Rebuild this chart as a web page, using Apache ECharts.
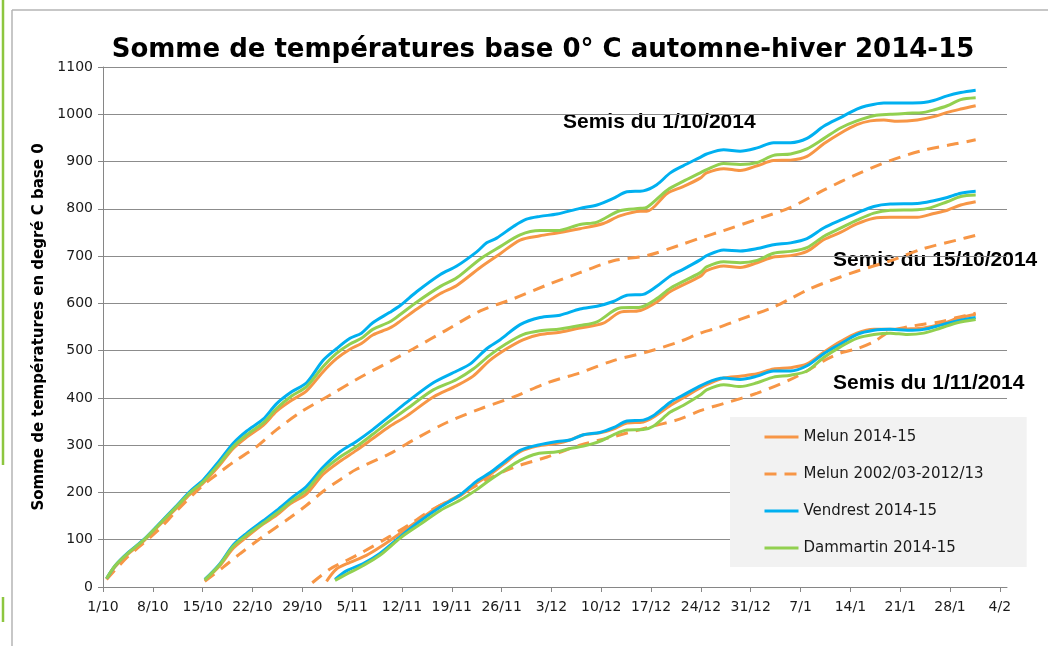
<!DOCTYPE html>
<html>
<head>
<meta charset="utf-8">
<script src="https://cdn.jsdelivr.net/npm/echarts@6/dist/echarts.min.js"></script>
<style>
  html, body { margin: 0; padding: 0; background: #fff; }
  #chart { width: 1048px; height: 646px; }
</style>
</head>
<body>
<div id="chart"></div>
<script>
// jours depuis le 1/10/2014, une graduation par semaine
const tickLabels = ['1/10', '8/10', '15/10', '22/10', '29/10', '5/11', '12/11', '19/11', '26/11', '3/12',
  '10/12', '17/12', '24/12', '31/12', '7/1', '14/1', '21/1', '28/1', '4/2']

const seriesNames = ['Melun 2014-15', 'Melun 2002/03-2012/13', 'Vendrest 2014-15', 'Dammartin 2014-15']

// Semis du 1/10/2014
const melunA = [[0.5,17],[1.7,43],[3.4,68],[5.7,97],[7.6,126],[10.4,168],[12.2,196],[14.1,220],[16.4,258],[18.3,293],[20.2,317],[22.5,342],[24.4,372],[26.5,395],[28.6,415],[30.9,455],[32.8,483],[34.7,503],[36.3,515],[37.9,533],[40.3,548],[41.8,563],[44.1,588],[47.4,621],[49.7,638],[53,676],[55.8,705],[58.6,734],[61.4,743],[63.8,749],[67,758],[70.3,769],[72.6,785],[75.5,795],[76.4,795],[79.3,833],[81.5,847],[83.9,865],[84.8,876],[87.2,885],[89.5,881],[91.9,891],[94.2,902],[96.6,903],[98.9,911],[101.3,938],[103.6,960],[105.9,978],[107.8,986],[109.7,988],[111.6,985],[114.4,988],[116.7,995],[118.6,1004],[120.5,1011],[122.6,1018]]
const histA = [[0.5,16],[3.4,63],[7.6,118],[10.4,162],[14.1,216],[16,238],[18.3,264],[21.6,297],[24.4,333],[28.1,373],[31.9,406],[35.6,439],[40.3,477],[43.6,504],[48.3,544],[53,584],[57.7,610],[62.4,639],[67,665],[71.7,690],[76.4,701],[81,723],[83.9,738],[87.2,754],[91.9,778],[96.6,803],[101.3,840],[105.9,873],[110.6,902],[115.3,924],[120,938],[122.6,946]]
const vendrestA = [[0.5,18],[1.7,45],[3.4,71],[5.7,100],[7.6,129],[10.4,173],[12.2,202],[14.1,227],[16.4,268],[18.3,304],[20.2,330],[22.5,355],[24.4,388],[26.5,413],[28.6,432],[30.9,479],[32.8,504],[34.7,526],[36.3,537],[37.9,559],[40.3,581],[41.8,596],[44.1,625],[47.4,661],[49.7,679],[52.5,709],[53.9,728],[55.3,738],[57.7,763],[59.5,778],[61.4,784],[63.8,789],[67,801],[69.4,808],[71.7,822],[73.6,836],[75.9,838],[77.8,851],[79.7,876],[81.5,891],[83.9,909],[84.8,916],[87.2,925],[89.5,922],[91.9,929],[94.2,940],[96.6,940],[98.9,949],[101.3,975],[103.6,993],[105.9,1011],[107.3,1018],[109.7,1024],[113,1024],[115.3,1025],[116.7,1029],[118.6,1039],[120.5,1046],[122.6,1051]]
const dammartinA = [[0.5,18],[1.7,45],[3.4,70],[5.7,99],[7.6,128],[10.4,171],[12.2,199],[14.1,223],[16.4,262],[18.3,297],[20.2,322],[22.5,347],[24.4,378],[26.5,404],[28.6,424],[30.9,466],[32.8,494],[34.7,514],[36.3,526],[37.9,545],[40.3,561],[41.8,577],[44.1,603],[47.4,636],[49.7,654],[53,694],[55.8,720],[58.6,745],[61.4,754],[63.8,754],[67,767],[69.4,772],[72.6,796],[75.5,801],[76.4,803],[79.3,840],[81.5,858],[83.9,876],[84.8,883],[87.2,896],[89.5,894],[91.9,898],[94.2,913],[96.6,916],[98.9,927],[101.3,949],[103.6,971],[105.9,986],[108.3,997],[110.6,1000],[113,1002],[115.3,1004],[116.7,1009],[118.6,1018],[120.5,1031],[122.6,1035]]

// Semis du 15/10/2014
const melunB = [[14.3,14],[16.4,45],[18.3,82],[20.2,106],[22.5,133],[24.4,152],[26.3,176],[28.6,197],[30.9,238],[33.3,266],[35.6,289],[37.9,314],[40.3,340],[42.7,362],[46.4,402],[49.7,426],[52,446],[54.3,479],[56.7,504],[59,523],[61.4,534],[64.2,539],[67,548],[70.3,558],[72.6,581],[75.5,585],[77.8,603],[79.7,625],[83.9,657],[84.8,669],[87.2,679],[89.5,676],[91.9,686],[94.2,698],[96.6,701],[98.9,710],[101.3,735],[103.6,750],[105.9,768],[108.3,780],[110.6,782],[114.4,782],[116.7,790],[118.6,797],[120.5,808],[122.6,815]]
const histB = [[14.3,12],[16.9,42],[19.3,71],[22.5,107],[26.3,147],[28.6,173],[30.9,202],[33.3,227],[35.6,249],[40.3,282],[43.6,311],[48.3,348],[53,377],[57.7,402],[62.4,432],[67,453],[71.7,479],[76.4,497],[81,519],[83.9,537],[86.3,548],[89.5,566],[94.2,592],[96.6,610],[98.9,628],[101.3,643],[105.9,668],[110.6,690],[115.3,716],[120,734],[122.6,744]]
const vendrestB = [[14.3,16],[16.4,49],[18.3,89],[20.2,114],[22.5,140],[24.4,162],[26.7,191],[28.6,213],[30.9,253],[33.3,286],[35.6,308],[37.9,333],[40.3,362],[42.7,391],[46.4,432],[49.7,457],[51.6,472],[53.9,504],[55.8,523],[58.6,555],[61.4,570],[64.2,575],[67,588],[69.4,594],[71.7,604],[73.6,617],[75.9,619],[77.8,636],[79.7,658],[81.5,672],[83.9,692],[84.8,701],[87.2,713],[89.5,711],[91.9,716],[94.2,724],[96.6,728],[98.9,737],[101.3,760],[103.6,776],[105.9,791],[108.3,805],[110.6,810],[114.4,811],[116.7,817],[118.6,824],[120.5,833],[122.6,837]]
const dammartinB = [[14.3,15],[16.4,47],[18.3,86],[20.2,110],[22.5,135],[24.4,156],[26.7,184],[28.6,205],[30.9,246],[33.3,275],[35.6,297],[37.9,323],[40.3,351],[42.7,377],[46.4,417],[49.7,439],[52,461],[54.3,490],[56.7,515],[59,534],[61.4,542],[64.2,546],[67,553],[69.4,561],[72.6,590],[75.5,592],[77.8,610],[79.7,632],[83.9,665],[84.8,677],[87.2,688],[89.5,686],[91.9,691],[94.2,706],[96.6,710],[98.9,718],[101.3,742],[103.6,759],[105.9,776],[108.3,791],[110.6,797],[114.4,798],[116.2,802],[118.6,815],[120.5,826],[122.6,829]]

// Semis du 1/11/2014
const melunC = [[31.4,12],[32.8,38],[34.7,52],[37,67],[39,85],[41.8,114],[44.6,144],[47.4,173],[50.2,193],[52.5,220],[54.4,238],[56.3,260],[58.6,286],[61,298],[63.8,304],[65.6,311],[67.5,322],[69.8,326],[71.7,334],[73.6,347],[75.9,349],[77.3,359],[79.7,384],[81.5,400],[83.9,421],[84.8,428],[87.2,442],[89.5,446],[91.9,451],[94.2,461],[96.6,464],[98.9,472],[101.3,497],[103.6,519],[105.9,537],[108.3,545],[110.6,545],[113,546],[115.3,548],[117.7,556],[120,568],[122.6,577]]
const histC = [[29.4,9],[31.9,38],[34.2,56],[36.5,74],[40.3,107],[42.7,129],[46.4,165],[50.2,195],[53.9,227],[57.7,253],[62.4,275],[67,300],[71.7,318],[76.4,337],[81,355],[83.9,373],[87.2,388],[91.9,410],[96.6,439],[98.9,457],[101.3,479],[103.6,495],[105.9,504],[108.3,519],[110.6,541],[113,550],[115.3,556],[117.7,561],[120,570],[122.6,579]]
const vendrestC = [[32.6,16],[34.2,34],[36.5,49],[38.9,71],[41.8,107],[44.6,140],[47.4,169],[50.2,195],[52.5,224],[54.4,242],[56.3,264],[58.6,289],[61,300],[63.8,308],[65.6,311],[67.5,322],[69.8,327],[71.7,337],[73.6,351],[75.9,353],[77.3,362],[79.7,391],[81.5,406],[84.8,432],[87.2,442],[89.5,439],[91.9,446],[94.2,457],[96.6,457],[98.9,468],[101.3,494],[103.6,514],[105.9,534],[108.3,543],[110.6,545],[113,543],[115.3,545],[117.7,554],[120,563],[122.6,570]]
const dammartinC = [[32.6,14],[34.2,27],[36.5,45],[38.9,67],[41.8,104],[44.6,133],[47.4,162],[50.2,184],[52.5,206],[54.4,227],[56.3,246],[58.6,268],[61,282],[63.8,286],[65.6,293],[67.5,298],[69.8,308],[71.7,322],[73.6,332],[75.9,333],[77.3,340],[79.7,370],[81.5,384],[83.9,406],[84.8,417],[87.2,428],[89.5,424],[91.9,432],[94.2,444],[96.6,448],[98.9,457],[101.3,486],[103.6,508],[105.9,526],[108.3,534],[110.6,537],[113,534],[115.3,537],[117.7,548],[120,559],[122.6,566]]

const ORANGE = '#F79646'
const BLUE = '#00B0F0'
const GREEN = '#92D050'
const FONT = 'DejaVu Sans'

const chart = echarts.init(document.getElementById('chart'), null, { renderer: 'canvas' })

const mkLine = (name, data, color, dashed) => ({
  name: name,
  type: 'line',
  data: data,
  symbol: 'none',
  smooth: 0.3,
  lineStyle: { color: color, width: 3, type: dashed ? [12, 8] : 'solid', cap: 'butt' },
  itemStyle: { color: color },
  z: 2
})

const option = {
  animation: false,
  backgroundColor: '#fff',
  title: {
    text: 'Somme de températures base 0° C automne-hiver 2014-15',
    left: 538,
    textAlign: 'center',
    top: 32,
    textStyle: { fontFamily: FONT, fontSize: 26, fontWeight: 'bold', color: '#000' }
  },
  legend: {
    data: seriesNames,
    orient: 'vertical',
    left: 730,
    top: 417,
    padding: [12, 43, 11, 33],
    itemGap: 21,
    itemWidth: 34,
    itemHeight: 16,
    backgroundColor: '#F2F2F2',
    selectedMode: false,
    itemStyle: { opacity: 0 },
    lineStyle: { width: 3 },
    textStyle: { fontFamily: FONT, fontSize: 15, color: '#1a1a1a', lineHeight: 16 }
  },
  grid: { left: 103, right: 41, top: 67, bottom: 59 },
  xAxis: {
    type: 'value',
    min: 0,
    max: 127,
    interval: 7,
    axisLine: { lineStyle: { color: '#868686', width: 1 } },
    axisTick: { show: true, length: 5, lineStyle: { color: '#868686' }, customValues: tickLabels.map((_, i) => i * 7) },
    splitLine: { show: false },
    axisLabel: {
      customValues: tickLabels.map((_, i) => i * 7),
      formatter: v => tickLabels[Math.round(v / 7)] || '',
      fontFamily: FONT,
      fontSize: 14,
      color: '#1a1a1a',
      margin: 13
    }
  },
  yAxis: {
    type: 'value',
    min: 0,
    max: 1100,
    interval: 100,
    name: 'Somme de températures en degré C base 0',
    nameLocation: 'middle',
    nameGap: 55,
    nameTextStyle: { fontFamily: FONT, fontSize: 15, fontWeight: 'bold', color: '#000' },
    axisLine: { show: true, lineStyle: { color: '#868686', width: 1 } },
    axisTick: { show: true, length: 5, lineStyle: { color: '#868686' } },
    splitLine: { show: true, lineStyle: { color: '#8c8c8c', width: 1 } },
    axisLabel: { formatter: v => String(v), fontFamily: FONT, fontSize: 14, color: '#1a1a1a', margin: 10 }
  },
  graphic: [
    { type: 'line', shape: { x1: 12, y1: 10, x2: 1048, y2: 10 }, style: { stroke: '#b5b5b5', lineWidth: 1.5 } },
    { type: 'line', shape: { x1: 12, y1: 10, x2: 12, y2: 646 }, style: { stroke: '#b5b5b5', lineWidth: 1.5 } },
    { type: 'line', shape: { x1: 3, y1: 0, x2: 3, y2: 465 }, style: { stroke: '#8DC63F', lineWidth: 2.5 } },
    { type: 'line', shape: { x1: 3, y1: 597, x2: 3, y2: 622 }, style: { stroke: '#8DC63F', lineWidth: 2.5 } },
    { type: 'text', left: 563, top: 112, style: { text: 'Semis du 1/10/2014', font: 'bold 21px "Liberation Sans"', fill: '#000' } },
    { type: 'text', left: 833, top: 250, style: { text: 'Semis du 15/10/2014', font: 'bold 21px "Liberation Sans"', fill: '#000' } },
    { type: 'text', left: 833, top: 373, style: { text: 'Semis du 1/11/2014', font: 'bold 21px "Liberation Sans"', fill: '#000' } }
  ],
  series: [
    mkLine(seriesNames[0], melunA, ORANGE, false),
    mkLine(seriesNames[1], histA, ORANGE, true),
    mkLine(seriesNames[2], vendrestA, BLUE, false),
    mkLine(seriesNames[3], dammartinA, GREEN, false),
    mkLine(seriesNames[0], melunB, ORANGE, false),
    mkLine(seriesNames[1], histB, ORANGE, true),
    mkLine(seriesNames[2], vendrestB, BLUE, false),
    mkLine(seriesNames[3], dammartinB, GREEN, false),
    mkLine(seriesNames[0], melunC, ORANGE, false),
    mkLine(seriesNames[1], histC, ORANGE, true),
    mkLine(seriesNames[2], vendrestC, BLUE, false),
    mkLine(seriesNames[3], dammartinC, GREEN, false)
  ]
}

chart.setOption(option)
</script>
</body>
</html>
